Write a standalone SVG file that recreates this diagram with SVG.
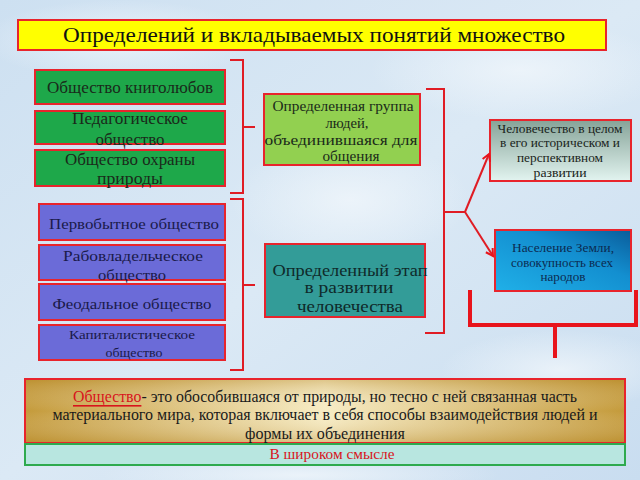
<svg xmlns="http://www.w3.org/2000/svg" width="640" height="480" viewBox="0 0 640 480">
<defs>
<linearGradient id="bg" x1="0" y1="0" x2="1" y2="1">
<stop offset="0" stop-color="#cde0f1"/>
<stop offset="0.5" stop-color="#dbe9f5"/>
<stop offset="1" stop-color="#c9ddf0"/>
</linearGradient>
<radialGradient id="blot" cx="0.5" cy="0.5" r="0.5">
<stop offset="0" stop-color="#f0f6fb" stop-opacity="0.8"/>
<stop offset="1" stop-color="#f0f6fb" stop-opacity="0"/>
</radialGradient>
<linearGradient id="gHum" x1="0" y1="0" x2="0" y2="1">
<stop offset="0" stop-color="#86a398"/>
<stop offset="1" stop-color="#e2f4f0"/>
</linearGradient>
<linearGradient id="gPop" x1="0" y1="1" x2="1" y2="0">
<stop offset="0" stop-color="#20b0e8"/>
<stop offset="0.6" stop-color="#138fd0"/>
<stop offset="1" stop-color="#0a5c9a"/>
</linearGradient>
<linearGradient id="gGold" x1="0" y1="0" x2="1" y2="0">
<stop offset="0" stop-color="#c49a3a"/>
<stop offset="0.5" stop-color="#f7ecc4"/>
<stop offset="1" stop-color="#c49a3a"/>
</linearGradient>
<linearGradient id="gGoldV" x1="0" y1="0" x2="0" y2="1">
<stop offset="0" stop-color="#b08020" stop-opacity="0.35"/>
<stop offset="0.5" stop-color="#ffffff" stop-opacity="0"/>
<stop offset="1" stop-color="#b08020" stop-opacity="0.35"/>
</linearGradient>
<marker id="arr" markerWidth="10" markerHeight="10" refX="8" refY="5" orient="auto" markerUnits="userSpaceOnUse">
<path d="M1,1 L8,5 L1,9" fill="none" stroke="#e8141c" stroke-width="2"/>
</marker>
</defs>
<style>
.box{stroke:#e8242c;stroke-width:2}
.t{font-family:"Liberation Serif","DejaVu Serif",serif;text-anchor:middle;dominant-baseline:central}
.br{fill:none;stroke:#e01c24;stroke-width:2}
.dark{fill:#1a2a1a}
.navy{fill:#1a1a4a}
</style>
<rect width="640" height="480" fill="url(#bg)"/>
<ellipse cx="120" cy="40" rx="140" ry="40" fill="url(#blot)"/>
<ellipse cx="520" cy="70" rx="150" ry="50" fill="url(#blot)"/>
<ellipse cx="350" cy="200" rx="120" ry="60" fill="url(#blot)"/>
<ellipse cx="560" cy="370" rx="120" ry="40" fill="url(#blot)"/>
<ellipse cx="300" cy="475" rx="200" ry="20" fill="url(#blot)"/>

<g id="title">
<rect class="box" x="18" y="20" width="588" height="30" fill="#ffff00"/>
<text class="t" x="314" y="35" font-size="21" fill="#111" textLength="502" lengthAdjust="spacingAndGlyphs">Определений и вкладываемых понятий множество</text>
</g>

<g id="g1"><rect class="box" x="35" y="70" width="190" height="34" fill="#1ea84a"/>
<text class="t dark" x="130" y="87" font-size="16" textLength="166" lengthAdjust="spacingAndGlyphs">Общество книголюбов</text></g>
<g id="g2"><rect class="box" x="35" y="111" width="190" height="33" fill="#1ea84a"/>
<text class="t dark" x="130" y="118" font-size="16" textLength="116" lengthAdjust="spacingAndGlyphs">Педагогическое</text>
<text class="t dark" x="130" y="139" font-size="16" textLength="69" lengthAdjust="spacingAndGlyphs">общество</text></g>
<g id="g3"><rect class="box" x="35" y="150" width="190" height="36" fill="#1ea84a"/>
<text class="t dark" x="130" y="159" font-size="16" textLength="130" lengthAdjust="spacingAndGlyphs">Общество охраны</text>
<text class="t dark" x="130" y="178" font-size="16" textLength="66" lengthAdjust="spacingAndGlyphs">природы</text></g>

<g id="p1"><rect class="box" x="39" y="204" width="186" height="36" fill="#6b6bd8"/>
<text class="t navy" x="134" y="223" font-size="15.5" textLength="170" lengthAdjust="spacingAndGlyphs">Первобытное общество</text></g>
<g id="p2"><rect class="box" x="39" y="245" width="186" height="35" fill="#6b6bd8"/>
<text class="t navy" x="133" y="255" font-size="15.5" textLength="140" lengthAdjust="spacingAndGlyphs">Рабовладельческое</text>
<text class="t navy" x="132" y="274" font-size="15.5" textLength="68" lengthAdjust="spacingAndGlyphs">общество</text></g>
<g id="p3"><rect class="box" x="39" y="284" width="186" height="36" fill="#6b6bd8"/>
<text class="t navy" x="132" y="303" font-size="15.5" textLength="159" lengthAdjust="spacingAndGlyphs">Феодальное общество</text></g>
<g id="p4"><rect class="box" x="39" y="325" width="186" height="35" fill="#6b6bd8"/>
<text class="t navy" x="132" y="334" font-size="13.5" textLength="126" lengthAdjust="spacingAndGlyphs">Капиталистическое</text>
<text class="t navy" x="134" y="352" font-size="13.5" textLength="57" lengthAdjust="spacingAndGlyphs">общество</text></g>

<g id="grp"><rect class="box" x="264" y="94" width="156" height="71" fill="#92d050"/>
<text class="t dark" x="343" y="106" font-size="14.5" textLength="141" lengthAdjust="spacingAndGlyphs">Определенная группа</text>
<text class="t dark" x="347" y="123" font-size="14.5" textLength="43" lengthAdjust="spacingAndGlyphs">людей,</text>
<text class="t dark" x="341" y="140" font-size="14.5" textLength="153" lengthAdjust="spacingAndGlyphs">объединившаяся для</text>
<text class="t dark" x="351" y="156" font-size="14.5" textLength="57" lengthAdjust="spacingAndGlyphs">общения</text></g>

<g id="stage"><rect class="box" x="265" y="244" width="160" height="73" fill="#339c98"/>
<text class="t" fill="#0f2a2a" x="350" y="270" font-size="16" textLength="155" lengthAdjust="spacingAndGlyphs">Определенный этап</text>
<text class="t" fill="#0f2a2a" x="349" y="287" font-size="16" textLength="89" lengthAdjust="spacingAndGlyphs">в развитии</text>
<text class="t" fill="#0f2a2a" x="350" y="306" font-size="16" textLength="106" lengthAdjust="spacingAndGlyphs">человечества</text></g>

<g id="hum"><rect class="box" x="490" y="120" width="141" height="61" fill="url(#gHum)"/>
<text class="t" fill="#1a2420" x="560" y="129" font-size="12.5" textLength="125" lengthAdjust="spacingAndGlyphs">Человечество в целом</text>
<text class="t" fill="#1a2420" x="560" y="143" font-size="12.5" textLength="120" lengthAdjust="spacingAndGlyphs">в его историческом и</text>
<text class="t" fill="#1a2420" x="560" y="158" font-size="12.5" textLength="86" lengthAdjust="spacingAndGlyphs">перспективном</text>
<text class="t" fill="#1a2420" x="560" y="173" font-size="12.5" textLength="53" lengthAdjust="spacingAndGlyphs">развитии</text></g>

<g id="pop"><rect class="box" x="495" y="230" width="136" height="61" fill="url(#gPop)"/>
<text class="t" fill="#0c2a50" x="563" y="247" font-size="13" textLength="102" lengthAdjust="spacingAndGlyphs">Население Земли,</text>
<text class="t" fill="#0c2a50" x="562" y="262" font-size="13" textLength="102" lengthAdjust="spacingAndGlyphs">совокупность всех</text>
<text class="t" fill="#0c2a50" x="563" y="276" font-size="13" textLength="45" lengthAdjust="spacingAndGlyphs">народов</text></g>

<g id="def">
<rect class="box" x="25" y="379" width="600" height="64" fill="url(#gGold)"/>
<rect x="26" y="380" width="598" height="62" fill="url(#gGoldV)"/>
<text class="t" x="325" y="396" font-size="16" fill="#1a1a1a" textLength="504" lengthAdjust="spacingAndGlyphs"><tspan fill="#d8141c" text-decoration="underline">Общество</tspan>- это обособившаяся от природы, но тесно с ней связанная часть</text>
<text class="t" x="325" y="414" font-size="16" fill="#1a1a1a" textLength="545" lengthAdjust="spacingAndGlyphs">материального мира, которая включает в себя способы взаимодействия людей и</text>
<text class="t" x="325" y="433" font-size="16" fill="#1a1a1a" textLength="160" lengthAdjust="spacingAndGlyphs">формы их объединения</text>
</g>
<g id="wide">
<rect x="25" y="444" width="600" height="21" fill="#b8e6e0" stroke="#2eaa4e" stroke-width="2"/>
<text class="t" x="332" y="454" font-size="15" fill="#d8141c" textLength="125" lengthAdjust="spacingAndGlyphs">В широком смысле</text>
</g>

<g id="connectors">
<path class="br" d="M230,60 H243 V193 H230 M243,127 H255"/>
<path class="br" d="M230,199 H243 V370 H230 M243,285 H255"/>
<path class="br" d="M426,89 H444 V333 H425 M444,212 H465"/>
<path class="br" d="M465,212 L489,154" marker-end="url(#arr)"/>
<path class="br" d="M465,212 L493,256" marker-end="url(#arr)"/>
<path d="M470,290 V325 H636 V290 M555,325 V358" fill="none" stroke="#e8141c" stroke-width="4"/>
</g>
</svg>
